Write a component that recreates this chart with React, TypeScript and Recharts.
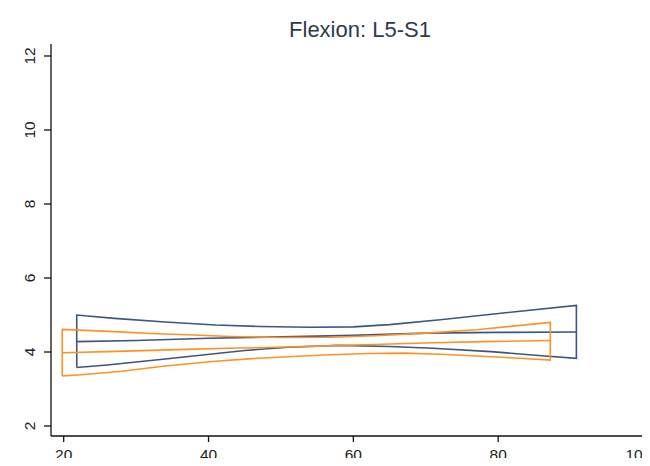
import { LineChart, Line, XAxis, YAxis } from 'recharts';

interface Pt {
  x: number;
  y: number;
}

// Values (x = age, y = flexion)
const navyUpper: Pt[] = [
  { x: 21.8, y: 5.0 },
  { x: 27, y: 4.91 },
  { x: 34, y: 4.81 },
  { x: 41, y: 4.73 },
  { x: 47, y: 4.69 },
  { x: 54, y: 4.67 },
  { x: 60, y: 4.68 },
  { x: 65, y: 4.74 },
  { x: 72, y: 4.87 },
  { x: 81, y: 5.06 },
  { x: 90.8, y: 5.26 },
];

const navyMean: Pt[] = [
  { x: 21.8, y: 4.28 },
  { x: 30, y: 4.31 },
  { x: 40, y: 4.37 },
  { x: 50, y: 4.41 },
  { x: 60, y: 4.45 },
  { x: 70, y: 4.51 },
  { x: 80, y: 4.53 },
  { x: 90.8, y: 4.54 },
];

const navyLower: Pt[] = [
  { x: 21.8, y: 3.58 },
  { x: 26, y: 3.65 },
  { x: 35, y: 3.83 },
  { x: 45, y: 4.04 },
  { x: 51, y: 4.13 },
  { x: 58, y: 4.18 },
  { x: 65, y: 4.15 },
  { x: 71, y: 4.1 },
  { x: 79, y: 4.01 },
  { x: 86, y: 3.9 },
  { x: 90.8, y: 3.83 },
];

const orangeUpper: Pt[] = [
  { x: 19.8, y: 4.61 },
  { x: 27, y: 4.55 },
  { x: 32, y: 4.5 },
  { x: 38, y: 4.46 },
  { x: 43, y: 4.42 },
  { x: 50, y: 4.39 },
  { x: 57, y: 4.4 },
  { x: 63, y: 4.44 },
  { x: 70, y: 4.51 },
  { x: 77, y: 4.6 },
  { x: 82, y: 4.7 },
  { x: 87.2, y: 4.8 },
];

const orangeMean: Pt[] = [
  { x: 19.8, y: 3.98 },
  { x: 26, y: 4.01 },
  { x: 37, y: 4.07 },
  { x: 44, y: 4.11 },
  { x: 48, y: 4.12 },
  { x: 55, y: 4.16 },
  { x: 64, y: 4.21 },
  { x: 71, y: 4.25 },
  { x: 78, y: 4.28 },
  { x: 87.2, y: 4.31 },
];

const orangeLower: Pt[] = [
  { x: 19.8, y: 3.35 },
  { x: 22, y: 3.38 },
  { x: 28, y: 3.48 },
  { x: 34, y: 3.62 },
  { x: 41, y: 3.75 },
  { x: 46, y: 3.82 },
  { x: 51, y: 3.87 },
  { x: 56, y: 3.92 },
  { x: 62, y: 3.96 },
  { x: 67, y: 3.97 },
  { x: 72, y: 3.94 },
  { x: 77, y: 3.89 },
  { x: 83, y: 3.83 },
  { x: 87.2, y: 3.78 },
];

const xTicks = [20, 40, 60, 80, 100];
const yTicks = [2, 4, 6, 8, 10, 12];

const NAVY = '#3d5583';
const ORANGE = '#ff9224';
const FONT = '"Liberation Sans", Arial, sans-serif';

// closed outline: left edge up, along the upper bound, right edge down, back along the lower bound
function outline(upper: Pt[], lower: Pt[]): Pt[] {
  return [lower[0], ...upper, ...[...lower].reverse()];
}

function YTick({ y, payload }: any) {
  return (
    <text
      x={0}
      y={0}
      transform={`translate(35, ${y}) rotate(-90)`}
      textAnchor="middle"
      fontSize={15.5}
      fontFamily={FONT}
      fill="#222"
    >
      {payload.value}
    </text>
  );
}

export default function App() {
  return (
    <div style={{ position: 'relative', width: 650, height: 466, margin: -8, background: '#fff' }}>
      <LineChart width={650} height={466} margin={{ top: 44, right: 0, left: 0, bottom: 0 }}>
        <XAxis
          dataKey="x"
          type="number"
          domain={[18.246, 100.967]}
          allowDataOverflow
          ticks={xTicks}
          height={30}
          tickSize={6}
          tickMargin={7}
          stroke="#111"
          strokeWidth={1.3}
          tick={{ fontSize: 15.5, fontFamily: FONT, fill: '#222' }}
        />
        <YAxis
          dataKey="y"
          type="number"
          domain={[1.73, 12.324]}
          allowDataOverflow
          ticks={yTicks}
          width={51}
          tickSize={7}
          stroke="#111"
          strokeWidth={1.3}
          tick={<YTick />}
        />
        <Line
          data={outline(navyUpper, navyLower)}
          dataKey="y"
          type="linear"
          stroke={NAVY}
          strokeWidth={1.6}
          dot={false}
          isAnimationActive={false}
        />
        <Line
          data={navyMean}
          dataKey="y"
          type="linear"
          stroke={NAVY}
          strokeWidth={1.6}
          dot={false}
          isAnimationActive={false}
        />
        <Line
          data={outline(orangeUpper, orangeLower)}
          dataKey="y"
          type="linear"
          stroke={ORANGE}
          strokeWidth={1.6}
          dot={false}
          isAnimationActive={false}
        />
        <Line
          data={orangeMean}
          dataKey="y"
          type="linear"
          stroke={ORANGE}
          strokeWidth={1.6}
          dot={false}
          isAnimationActive={false}
        />
      </LineChart>
      <svg
        width={650}
        height={466}
        style={{ position: 'absolute', left: 0, top: 0, pointerEvents: 'none' }}
      >
        <text x={360} y={37} textAnchor="middle" fontSize={22} fontFamily={FONT} fill="#2e3a4c">
          Flexion: L5-S1
        </text>
      </svg>
    </div>
  );
}
